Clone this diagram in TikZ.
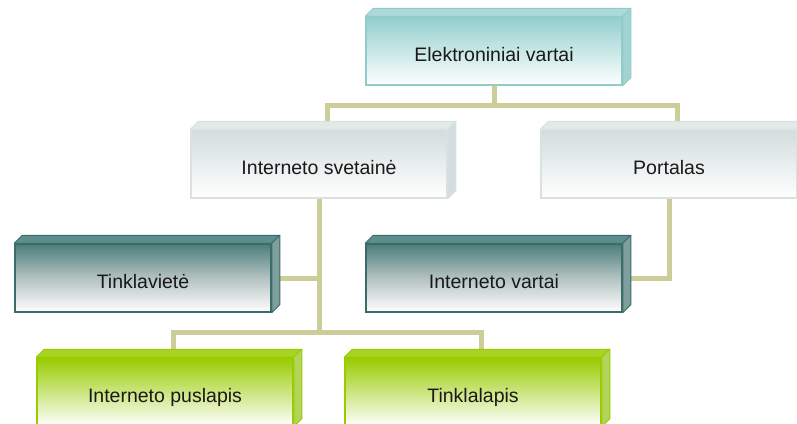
\documentclass[tikz,border=0pt]{standalone}
\usepackage{fontspec}
\setmainfont{Liberation Sans}
\usetikzlibrary{backgrounds,calc}
\definecolor{connC}{HTML}{CDCD99}
\definecolor{aquaT}{HTML}{93CECE}
\definecolor{aquaB}{HTML}{92CBCB}
\definecolor{aquaTop}{HTML}{ACDADA}
\definecolor{aquaSide}{HTML}{A3D2D2}
\definecolor{grayT}{HTML}{D2DDDD}
\definecolor{grayB}{HTML}{D9E1E1}
\definecolor{grayTop}{HTML}{E2E9E9}
\definecolor{graySide}{HTML}{D4DDDD}
\definecolor{darkT}{HTML}{4A7E7B}
\definecolor{darkB}{HTML}{3C6C69}
\definecolor{darkTop}{HTML}{5E8E8B}
\definecolor{darkSide}{HTML}{7E9F9D}
\definecolor{darkM}{HTML}{B4C2C1}
\definecolor{greenT}{HTML}{99CC00}
\definecolor{greenB}{HTML}{99CC00}
\definecolor{greenTop}{HTML}{A8D323}
\definecolor{greenSide}{HTML}{B2D45A}
\tikzset{
  box/.style={rectangle, minimum width=256bp, minimum height=68bp, inner sep=0pt,
    text height=20bp, text depth=0pt,
    font=\fontsize{19.5bp}{22bp}\selectfont, text=black!90, line width=1.5bp},
  aquabox/.style={box, draw=aquaB, top color=aquaT, bottom color=white},
  graybox/.style={box, draw=grayB, top color=grayT, bottom color=white},
  darkbox/.style={box, draw=darkB, top color=darkT, bottom color=white, middle color=darkM},
  greenbox/.style={box, draw=greenB, top color=greenT, bottom color=white},
  conn/.style={draw=connC, line width=5bp},
}
\newcommand\bevelbox[4]{%
  \draw[draw=#4, fill=#2, line width=1bp, line join=round]
    (#1.north west) -- ++(8,-8) -- ($(#1.north east)+(8,-8)$) -- (#1.north east) -- cycle;
  \draw[draw=#4, fill=#3, line width=1bp, line join=round]
    (#1.north east) -- ++(8,-8) -- ($(#1.south east)+(8,-8)$) -- (#1.south east) -- cycle;}
\begin{document}
\begin{tikzpicture}[x=1bp,y=-1bp]
\useasboundingbox (0,0) rectangle (797,423);
\node[aquabox]  (ev) at (494,51)  {Elektroniniai vartai};
\node[graybox]  (sv) at (319,164) {Interneto svetainė};
\node[graybox]  (po) at (669,164) {Portalas};
\node[darkbox]  (tv) at (143,278) {Tinklavietė};
\node[darkbox]  (iv) at (494,278) {Interneto vartai};
\node[greenbox] (ip) at (165,392) {Interneto puslapis};
\node[greenbox] (tl) at (473,392) {Tinklalapis};
\bevelbox{ev}{aquaTop}{aquaSide}{aquaB}
\bevelbox{sv}{grayTop}{graySide}{grayB}
\bevelbox{po}{grayTop}{graySide}{grayB}
\bevelbox{tv}{darkTop}{darkSide}{darkB}
\bevelbox{iv}{darkTop}{darkSide}{darkB}
\bevelbox{ip}{greenTop}{greenSide}{greenB}
\bevelbox{tl}{greenTop}{greenSide}{greenB}
\begin{pgfonlayer}{background}
  \coordinate (svt) at ($(sv.center)+(8,0)$);
  \coordinate (pot) at ($(po.center)+(8,0)$);
  \coordinate (ipt) at ($(ip.center)+(8,0)$);
  \coordinate (tlt) at ($(tl.center)+(8,0)$);
  \coordinate (hub1) at ($(ev.center)+(0,54)$);
  \coordinate (hub2) at ($(sv.center)+(0,168)$);
  \draw[conn] (ev.center) -- (hub1);
  \draw[conn] (svt) |- (hub1) -| (pot);
  \draw[conn] (sv.center) -- (hub2);
  \draw[conn] (tv.center) -- (tv.center -| sv.center);
  \draw[conn] (ipt) |- (hub2) -| (tlt);
  \draw[conn] (po.center) |- (iv.center);
\end{pgfonlayer}
\end{tikzpicture}
\end{document}
